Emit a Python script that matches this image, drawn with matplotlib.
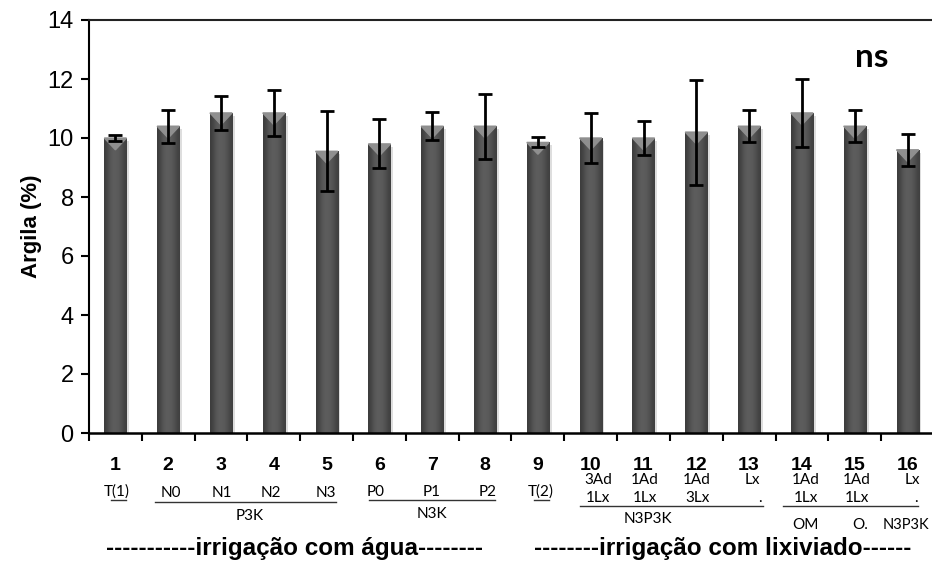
import matplotlib
matplotlib.use("Agg")
from matplotlib import pyplot as plt
import numpy as np

# data
trat = ["1", "2", "3", "4", "5", "6", "7", "8",
        "9", "10", "11", "12", "13", "14", "15", "16"]
argila = [10.0, 10.4, 10.85, 10.85, 9.55, 9.8, 10.4, 10.4,
          9.85, 10.0, 10.0, 10.2, 10.4, 10.85, 10.4, 9.6]
erro = [0.1, 0.56, 0.57, 0.79, 1.36, 0.83, 0.47, 1.1,
        0.17, 0.84, 0.56, 1.78, 0.55, 1.15, 0.55, 0.55]

fig = plt.figure(figsize=(9.32, 5.63), dpi=100)
ax = fig.add_axes([89/932, 130/563, 845/932, 413/563])

x = np.arange(len(trat))
bars = ax.bar(x, argila, width=0.42, color="#555555", zorder=2)

# cylinder-like shading on each bar
grad = np.array([[0.24, 0.30, 0.35, 0.37, 0.36, 0.34, 0.30, 0.25]])
for b in bars:
    x0, w, h = b.get_x(), b.get_width(), b.get_height()
    # soft shadow on the right
    ax.bar(x0 + w/2 + 0.05, h - 0.1, width=w, color="#dedede", zorder=1)
    im = ax.imshow(grad, cmap="gray", vmin=0, vmax=1, aspect="auto",
                   extent=(x0, x0 + w, 0, h), zorder=2.5, interpolation="bicubic")
    im.set_clip_path(b)
    # lighter tip at the top
    ax.fill([x0, x0 + w, x0 + w/2], [h, h, h - 0.4], color="#8f8f8f", zorder=2.6)

ax.errorbar(x, argila, yerr=erro, fmt="none", ecolor="black", elinewidth=2,
            capsize=5, capthick=2, zorder=3)

ax.set_xlim(-0.5, len(trat) - 0.5)
ax.set_ylim(0, 14)
ax.set_yticks(range(0, 15, 2))
ax.set_xticks(np.arange(-0.5, len(trat), 1))
ax.set_xticklabels([])
ax.tick_params(axis="y", labelsize=17, length=6, width=1.5, pad=5)
ax.tick_params(axis="x", length=6, width=1.5)
for lab in ax.get_yticklabels():
    lab.set_family("Liberation Sans")
ax.spines["right"].set_visible(False)
ax.spines["left"].set_linewidth(1.5)
ax.spines["bottom"].set_linewidth(1.8)
ax.spines["top"].set_linewidth(1.5)
ax.spines["top"].set_color("#222222")
ax.set_ylabel("Argila (%)", fontsize=16, fontweight="bold", family="Liberation Sans", labelpad=4)

# labels under the axis (figure pixel coords)
def ftxt(px, py, s, **kw):
    fig.text(px/932, 1 - py/563, s, ha="center", va="center", **kw)

def fline(x1, x2, py):
    fig.add_artist(plt.Line2D([x1/932, x2/932], [1 - py/563] * 2, color="#333333", lw=1))

ftxt(872, 58, "ns", fontsize=24, fontweight="bold", family="Lato")

centers = [89 + 52.8 * (i + 0.5) for i in range(len(trat))]
for c, t in zip(centers, trat):
    ftxt(c, 466, t, fontsize=14, fontweight="bold", family="Liberation Sans")

small = dict(fontsize=11, family="Lato")
ftxt(117, 492, "T(1)", **small)
fline(111, 126, 500)
for px, s in zip([171, 222, 271, 326], ["N0", "N1", "N2", "N3"]):
    ftxt(px, 493, s, **small)
fline(155, 336, 502)
ftxt(250, 516, "P3K", **small)

for px, s in zip([376, 432, 488], ["P0", "P1", "P2"]):
    ftxt(px, 492, s, **small)
fline(369, 495, 500)
ftxt(432, 514, "N3K", **small)

ftxt(541, 492, "T(2)", **small)
fline(534, 549, 500)

for px, s in zip([598, 645, 697, 752], ["3Ad", "1Ad", "1Ad", "Lx"]):
    ftxt(px, 480, s, **small)
for px, s in zip([598, 645, 698, 760], ["1Lx", "1Lx", "3Lx", "."]):
    ftxt(px, 498, s, **small)
fline(580, 763, 506)
ftxt(648, 519, "N3P3K", **small)

for px, s in zip([806, 857, 912], ["1Ad", "1Ad", "Lx"]):
    ftxt(px, 480, s, **small)
for px, s in zip([806, 857, 916], ["1Lx", "1Lx", "."]):
    ftxt(px, 498, s, **small)
fline(783, 918, 506)
for px, s in zip([805, 860], ["OM", "O."]):
    ftxt(px, 525, s, **small)
ftxt(906, 525, "N3P3K", fontsize=10.5, family="Lato")

big = dict(fontsize=17.5, fontweight="bold", family="Liberation Sans")
ftxt(294, 549, "-----------irrigação com água--------", **big)
ftxt(723, 549, "--------irrigação com lixiviado------", **big)

fig.savefig("out.png", dpi=100)
